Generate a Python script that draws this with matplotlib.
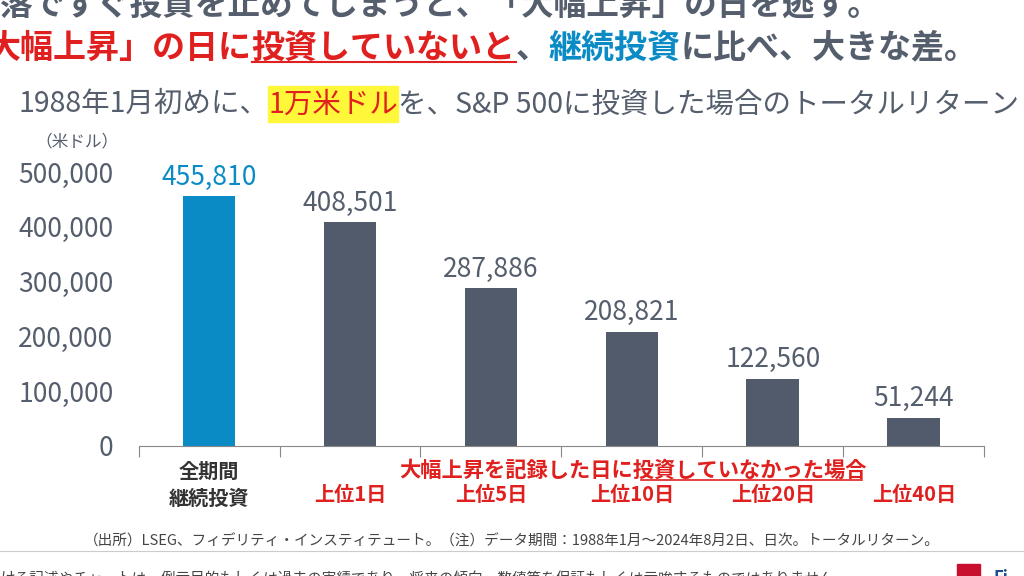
import matplotlib.pyplot as plt
from matplotlib.patches import Rectangle

plt.rcParams['font.family'] = ['Noto Sans CJK JP', 'DejaVu Sans']

categories = ['全期間\n継続投資', '上位1日', '上位5日', '上位10日', '上位20日', '上位40日']
values = [455810, 408501, 287886, 208821, 122560, 51244]
yticks = [0, 100000, 200000, 300000, 400000, 500000]

blue = '#0a8bc6'
gray = '#525b6b'
txt = '#555e6c'
red = '#e0201f'

fig = plt.figure(figsize=(10.24, 5.76), dpi=100)
ax = fig.add_axes([0.1353, 0.2257, 0.826, 0.4757])
colors = [blue] + [gray] * 5
x = range(len(values))
ax.bar(x, values, width=0.375, color=colors, zorder=2)
for i, v in enumerate(values):
    ax.text(i, v + 10000, f'{v:,}', ha='center', va='bottom', fontsize=19,
            color=blue if i == 0 else txt)
ax.set_xlim(-0.5, 5.5)
ax.set_ylim(0, 500000)
ax.set_yticks(yticks)
ax.set_yticklabels([f'{t:,}' for t in yticks], fontsize=19, color=txt)
ax.tick_params(axis='y', length=0, pad=18)
ax.set_xticks([i - 0.5 for i in range(7)])
ax.set_xticklabels([])
ax.tick_params(axis='x', length=8, color='#888888', direction='out')
for s in ['left', 'right', 'top']:
    ax.spines[s].set_visible(False)
ax.spines['bottom'].set_color('#888888')

ax.text(0, -28000, categories[0], ha='center', va='top', fontsize=14.5,
        fontweight='bold', color='#333333', linespacing=1.3)
for i in range(1, 6):
    ax.text(i, -70000, categories[i], ha='center', va='top', fontsize=14.5,
            fontweight='bold', color=red)
fig.text(0.618, 0.172, '大幅上昇を記録した日に投資していなかった場合', ha='center',
         fontsize=15.3, fontweight='bold', color=red)
fig.add_artist(plt.Line2D([0.626, 0.842], [0.166, 0.166], color=red, lw=1.2))

fig.text(0.035, 0.745, '（米ドル）', fontsize=12, color=txt)

renderer = fig.canvas.get_renderer()


def chain(x0, y, parts, size, bold=True):
    # draw text pieces one after another on one line
    xc = x0
    out = []
    for s, c, extra in parts:
        t = fig.text(xc, y, s, fontsize=size, color=c,
                     fontweight='bold' if bold else 'normal')
        bb = t.get_window_extent(renderer).transformed(fig.transFigure.inverted())
        out.append((t, bb, extra))
        xc = bb.x1
    return out


for t, bb, extra in chain(0.018, 0.805, [('1988年1月初めに、', txt, None),
                                          ('1万米ドル', red, 'hl'),
                                          ('を、S&P 500に投資した場合のトータルリターン', txt, None)],
                          20.5, bold=False):
    if extra == 'hl':
        fig.patches.append(Rectangle((bb.x0, bb.y0 - 0.005), bb.width, bb.height + 0.01,
                                     transform=fig.transFigure, color='#fff83a', zorder=0))

fig.text(0.0, 0.975, '落ですぐ投資を止めてしまうと、「大幅上昇」の日を逃す。', fontsize=23.5,
         color=txt, fontweight='bold')
for t, bb, extra in chain(-0.012, 0.9, [('大幅上昇」の日に', red, None),
                                         ('投資していないと', red, 'ul'),
                                         ('、', txt, None),
                                         ('継続投資', blue, None),
                                         ('に比べ、大きな差。', txt, None)], 23.8):
    if extra == 'ul':
        fig.add_artist(plt.Line2D([bb.x0, bb.x1], [bb.y0 + 0.004] * 2, color=red, lw=1.5))

fig.text(0.5, 0.052, '（出所）LSEG、フィデリティ・インスティテュート。（注）データ期間：1988年1月～2024年8月2日、日次。トータルリターン。',
         ha='center', fontsize=10.5, color='#444444')
fig.add_artist(plt.Line2D([0, 1], [0.043, 0.043], color='#cccccc', lw=0.8))
fig.text(0.0, -0.012, 'ける記述やチャートは、例示目的もしくは過去の実績であり、将来の傾向、数値等を保証もしくは示唆するものではありません。',
         fontsize=10.5, color='#444444')
fig.patches.append(Rectangle((0.935, -0.01), 0.022, 0.03, transform=fig.transFigure,
                             color='#c8102e'))
fig.text(0.97, -0.012, 'Fi', fontsize=12, color='#1a4f8b', fontweight='bold')

fig.savefig('out.png', dpi=100)
